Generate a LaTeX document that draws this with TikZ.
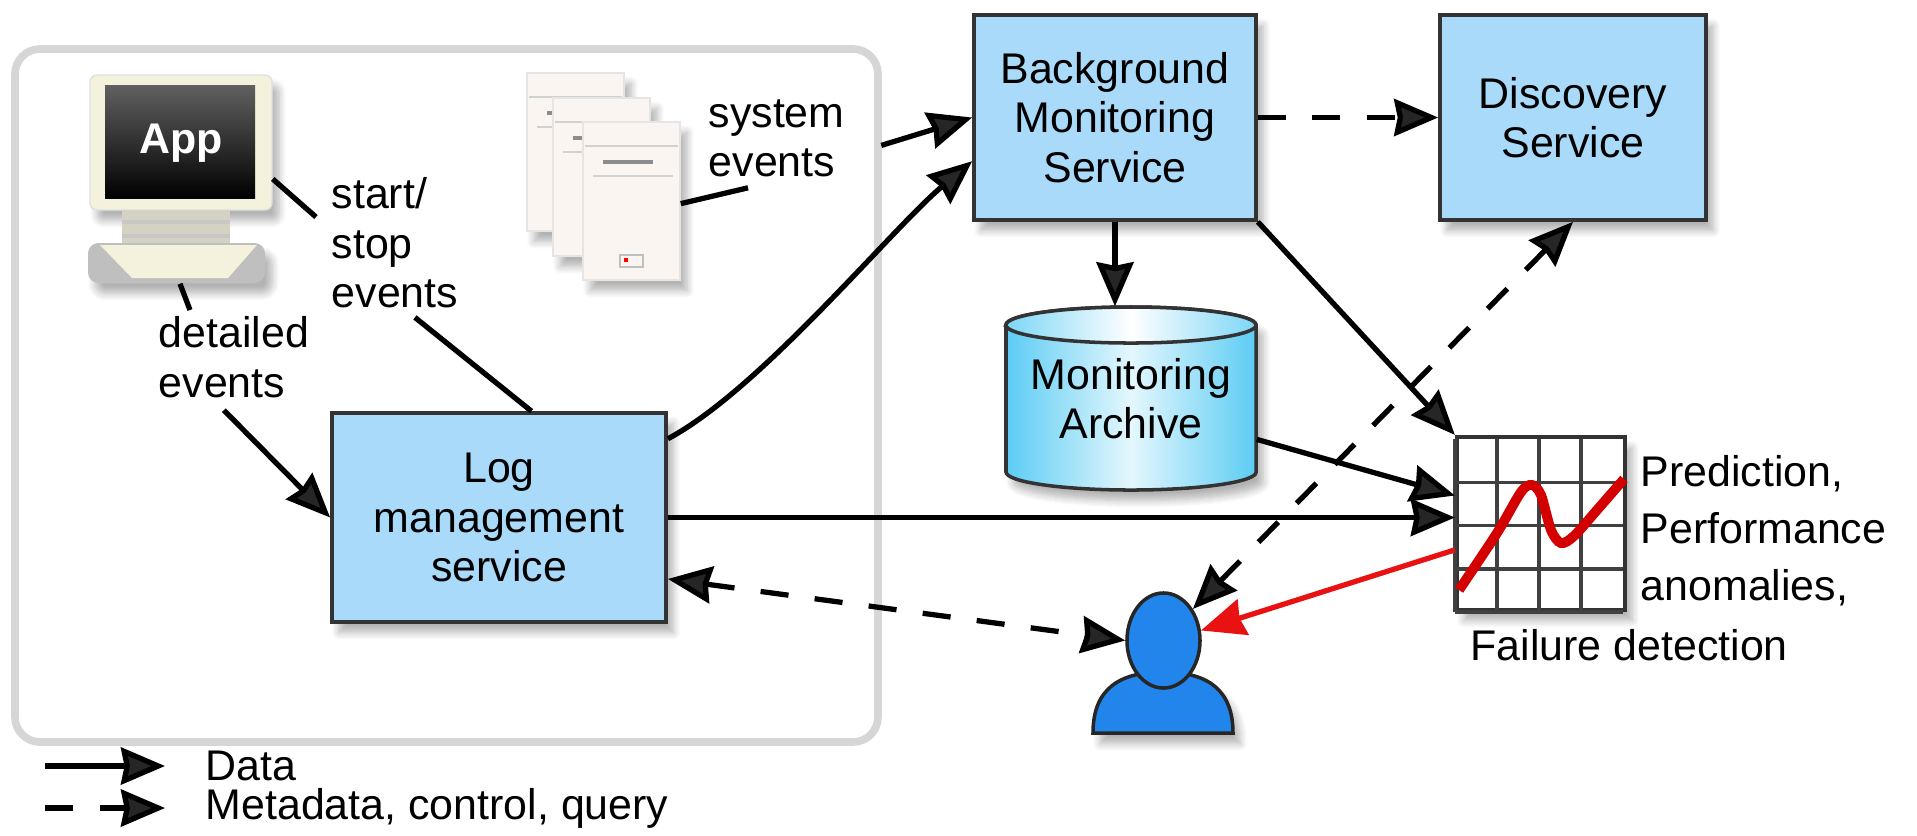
\documentclass[tikz,border=0pt]{standalone}
\usepackage{fontspec}
\setmainfont{Liberation Sans}
\usetikzlibrary{arrows.meta,positioning,shapes.geometric,shadows.blur}

\definecolor{svcblue}{RGB}{170,218,249}
\definecolor{arcblue}{RGB}{92,204,244}
\definecolor{arclight}{RGB}{228,247,253}
\definecolor{userblue}{RGB}{33,133,235}
\definecolor{cream}{RGB}{244,241,220}
\definecolor{paper}{RGB}{250,245,241}
\definecolor{alertred}{RGB}{232,18,18}
\definecolor{chartred}{RGB}{212,0,0}
\definecolor{frame}{RGB}{214,214,214}

\begin{document}
\begin{tikzpicture}[
  x=0.01cm, y=0.01cm,
  font=\fontsize{12.2}{14}\selectfont,
  >={Stealth[length=12.5pt, width=10.5pt, inset=1pt]},
  soft/.style={blur shadow={shadow xshift=2pt, shadow yshift=-3pt, shadow opacity=30, shadow blur steps=8}},
  svc/.style={draw=black!80, line width=1pt, fill=svcblue, align=center, inner sep=0pt, soft},
  lbl/.style={align=left, inner sep=0pt, anchor=north west},
  evline/.style={line width=1.5pt},
  data/.style={->, line width=1.5pt},
  meta/.style={data, dash pattern=on 8pt off 7.5pt},
  node distance=0.4cm]
\useasboundingbox (0,0) rectangle (1917,-835);

% --- application host ---
\draw[frame, line width=2.2pt, rounded corners=0.25cm] (15,-49) rectangle (878,-742);

% computer running the app
\fill[cream, draw=black!12, rounded corners=2pt, soft] (90,-75) rectangle (272,-210);
\fill[top color=black!62, bottom color=black] (105,-85) rectangle (255,-198);
\node[anchor=base, text=white, font=\fontsize{12.2}{14}\selectfont\bfseries] (apptxt) at (181,-153) {App};
\fill[cream!85!black!90] (122,-210) rectangle (230,-244);
\draw[black!22, line width=1pt] (122,-222) -- (230,-222);
\draw[black!22, line width=1pt] (122,-236) -- (230,-236);
\fill[gray!50, rounded corners=3pt, soft] (88,-243) rectangle (265,-283);
\fill[cream] (100,-245) -- (257,-245) -- (228,-278) -- (132,-278) -- cycle;
\node[minimum width=1.84cm, minimum height=2.08cm, inner sep=0pt] (pc) at (180,-179) {};

% system log pages
\foreach \dx/\dy in {0/0,26/25,56/49} {
  \fill[paper, draw=black!10, soft] (527+\dx,-73-\dy) rectangle ++(97,-158);
  \draw[black!18] (529+\dx,-97-\dy) -- ++(93,0);
  \draw[black!45, line width=1.3pt] (547+\dx,-113-\dy) -- ++(50,0);
  \draw[black!18] (537+\dx,-127-\dy) -- ++(80,0);
}
\draw[black!25] (620,-255) rectangle (643,-267);
\fill[red] (624,-258) rectangle (628,-262);
\node[minimum width=1.53cm, minimum height=2.05cm, inner sep=0pt] (docs) at (603.5,-175.5) {};

% --- services ---
\node[svc, minimum width=3.34cm, minimum height=2.09cm] (log) at (499,-517.5) {Log\\management\\service};
\node[svc, minimum width=2.82cm, minimum height=2.05cm] (bms) at (1115,-117.5) {Background\\Monitoring\\Service};
\node[svc, minimum width=2.66cm, minimum height=2.05cm] (disc) at (1573,-117.5) {Discovery\\Service};

% monitoring archive
\path[soft, left color=arcblue, right color=arcblue, middle color=arclight, draw=black!80, line width=1pt]
  (1006,-325) -- (1006,-472) arc[start angle=180, end angle=360, x radius=1.25cm, y radius=0.18cm]
  -- (1256,-325) arc[start angle=0, end angle=180, x radius=1.25cm, y radius=0.18cm] -- cycle;
\draw[black!80, line width=1pt, left color=arcblue!80, right color=arcblue!80, middle color=white]
  (1131,-325) ellipse[x radius=1.25cm, y radius=0.18cm];
\node[align=center, inner sep=0pt, minimum width=2.5cm, minimum height=1.83cm] (arch) at (1131,-398.5) {Monitoring\\Archive};

% results chart
\node[draw=black!80, line width=1.2pt, fill=white, minimum width=1.68cm, minimum height=1.73cm, inner sep=0pt, soft] (chart) at (1541,-523.5) {};
\draw[black!75, line width=1pt, shift={(chart.south west)}, xstep=0.42cm, ystep=0.4325cm] (0,0) grid (168,173);
\draw[chartred, line width=2.8pt] plot[smooth, tension=0.5] coordinates {(1459,-590) (1497,-533) (1521,-492) (1532,-485) (1541,-495) (1551,-530) (1561,-543) (1574,-536) (1597,-510) (1624,-479)};
\node[lbl, font=\fontsize{12.2}{16.2}\selectfont] (pred) at (1640,-455) {Prediction,\\Performance\\anomalies,};
\node[anchor=base west, inner sep=0pt] (fail) at (1470,-660) {Failure detection};

% user
\path[fill=userblue, draw=black!85, line width=1pt, soft] (1093,-733) .. controls (1093,-690) and (1118,-672) .. (1163,-672)
  .. controls (1208,-672) and (1233,-690) .. (1233,-733) -- cycle;
\node[ellipse, draw=black!85, line width=1pt, fill=userblue, minimum width=0.73cm, minimum height=0.95cm, inner sep=0pt] (head) at (1163.5,-640.5) {};

% --- labels on the event lines ---
\node[lbl] (ssl) at (331,-177) {start/\\stop\\events};
\node[lbl] (del) at (158,-316) {detailed\\events};
\node[lbl] (sel) at (708,-99) {system\\events};

% --- connectors ---
\draw[evline] (pc.east) -- ([shift={(-15,-40)}]ssl.north west);
\draw[evline] ([shift={(20,-9)}]ssl.south) -- (log.73.5);
\draw[evline] (pc.south) -- ([shift={(32,6)}]del.north west);
\draw[data] ([shift={(-10,-12)}]del.south) -- (log.west);
\draw[evline] (docs.-20) -- ([shift={(40,-10)}]sel.south west);
\draw[data] ([shift={(36,-7)}]sel.east) -- (bms.west);
\draw[data] (log.25) to[out=28, in=220, looseness=0.65] (bms.197);
\draw[meta] (bms.east) -- (disc.west);
\draw[data] (bms.south) -- (bms.south |- arch.north);
\draw[data] (bms.south east) -- (chart.north west);
\draw[data] (arch.-18) -- (chart.162.5);
\draw[data] (log.east) -- (log.east -| chart.west);
\draw[meta, <->] (log.-20.5) -- (head.west);
\draw[meta, <->] (head.47) -- (disc.south);
\draw[data, alertred] (chart.197.5) -- (head.15);

% --- legend ---
\coordinate (d0) at (45,-766);
\coordinate (d1) at (165,-766);
\draw[data] (d0) -- (d1);
\node[right=of d1, inner sep=0pt] (ldata) {Data};
\coordinate (m0) at (45,-808);
\coordinate (m1) at (165,-808);
\draw[meta] (m0) -- (m1);
\node[right=of m1, inner sep=0pt] (lmeta) {Metadata, control, query};
\end{tikzpicture}
\end{document}
